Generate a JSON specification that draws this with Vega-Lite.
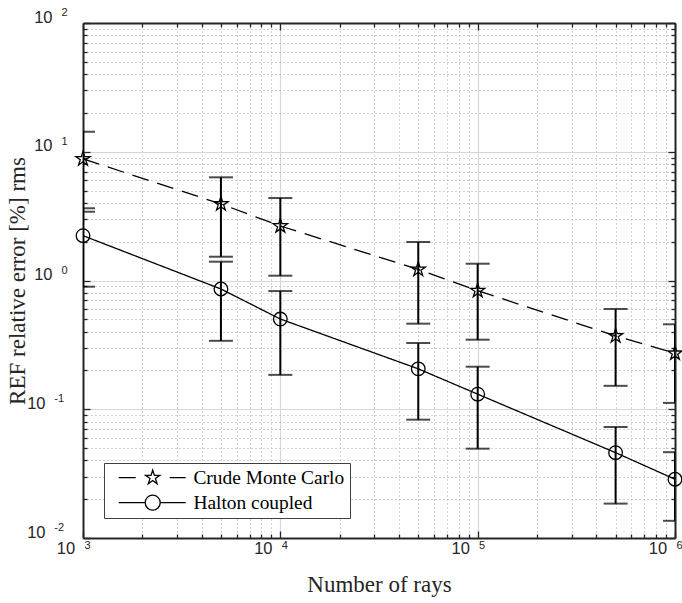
{
  "$schema": "https://vega.github.io/schema/vega-lite/v6.json",
  "width": 592,
  "height": 515,
  "autosize": {"type": "none"},
  "padding": {"left": 83, "top": 23, "right": 7, "bottom": 65},
  "background": "white",
  "data": {
    "values": [
      {"series": "Crude Monte Carlo", "rays": 1000, "err": 8.8, "lo": 3.42, "hi": 14.3},
      {"series": "Crude Monte Carlo", "rays": 5000, "err": 3.93, "lo": 1.53, "hi": 6.33},
      {"series": "Crude Monte Carlo", "rays": 10000, "err": 2.65, "lo": 1.09, "hi": 4.37},
      {"series": "Crude Monte Carlo", "rays": 50000, "err": 1.22, "lo": 0.462, "hi": 1.99},
      {"series": "Crude Monte Carlo", "rays": 100000, "err": 0.834, "lo": 0.347, "hi": 1.35},
      {"series": "Crude Monte Carlo", "rays": 500000, "err": 0.371, "lo": 0.152, "hi": 0.601},
      {"series": "Crude Monte Carlo", "rays": 1000000, "err": 0.272, "lo": 0.112, "hi": 0.457},
      {"series": "Halton coupled", "rays": 1000, "err": 2.23, "lo": 0.895, "hi": 3.64},
      {"series": "Halton coupled", "rays": 5000, "err": 0.859, "lo": 0.34, "hi": 1.4},
      {"series": "Halton coupled", "rays": 10000, "err": 0.502, "lo": 0.185, "hi": 0.828},
      {"series": "Halton coupled", "rays": 50000, "err": 0.206, "lo": 0.083, "hi": 0.327},
      {"series": "Halton coupled", "rays": 100000, "err": 0.131, "lo": 0.0494, "hi": 0.214},
      {"series": "Halton coupled", "rays": 500000, "err": 0.046, "lo": 0.0185, "hi": 0.0728},
      {"series": "Halton coupled", "rays": 1000000, "err": 0.0286, "lo": 0.0136, "hi": 0.0464}
    ]
  },
  "config": {
    "view": {"stroke": null},
    "axis": {"domainColor": "#262626", "tickColor": "#262626", "labelColor": "#262626", "titleColor": "#262626"}
  },
  "layer": [
    {
      "mark": {"type": "rule", "clip": true, "color": "black", "strokeWidth": 2},
      "encoding": {
        "x": {"field": "rays", "type": "quantitative", "scale": {"type": "log", "domain": [1000, 1000000]},
          "axis": {"orient": "bottom", "values": [1000, 10000, 100000, 1000000], "ticks": true, "tickSize": -7, "tickWidth": 1.3,
            "domain": true, "domainWidth": 2, "grid": true, "gridColor": "#d6d6d6", "gridWidth": 1.2, "labels": false,
            "title": "Number of rays", "titleFont": "Liberation Serif", "titleFontSize": 23, "titleFontWeight": "normal",
            "titleX": 296, "titleY": 53, "titleBaseline": "alphabetic", "titleAlign": "center"}},
        "y": {"field": "lo", "type": "quantitative", "scale": {"type": "log", "domain": [0.01, 100]},
          "axis": {"orient": "left", "values": [0.01, 0.1, 1, 10, 100], "ticks": true, "tickSize": -7, "tickWidth": 1.3,
            "domain": true, "domainWidth": 2, "grid": true, "gridColor": "#d6d6d6", "gridWidth": 1.2, "labels": false,
            "title": "REF relative error [%] rms", "titleFont": "Liberation Serif", "titleFontSize": 23, "titleFontWeight": "normal",
            "titleX": -66, "titleY": 257.5, "titleAngle": -90, "titleBaseline": "middle", "titleAlign": "center"}},
        "y2": {"field": "hi"}
      }
    },
    {
      "mark": {"type": "tick", "orient": "horizontal", "clip": true, "color": "black", "size": 24, "thickness": 2},
      "encoding": {
        "x": {"field": "rays", "type": "quantitative",
          "axis": {"orient": "bottom", "values": [1000, 10000, 100000, 1000000], "ticks": false, "domain": false, "grid": false,
            "labelExpr": "'10'", "labelFont": "Liberation Sans", "labelFontSize": 16.5, "labelPadding": 2, "labelBaseline": "top",
            "labelAlign": "center", "labelOffset": -17.5, "labelFlush": false, "labelOverlap": false, "title": null}},
        "y": {"field": "lo", "type": "quantitative",
          "axis": {"orient": "left", "values": [0.01, 0.1, 1, 10, 100], "ticks": false, "domain": false, "grid": false,
            "labelExpr": "'10'", "labelFont": "Liberation Sans", "labelFontSize": 16.5,
            "labelPadding": {"condition": {"test": "datum.value < 1", "value": 38}, "value": 31},
            "labelBaseline": "middle", "labelAlign": "right", "labelOffset": -6, "labelFlush": false, "labelOverlap": false, "title": null}}
      }
    },
    {
      "mark": {"type": "tick", "orient": "horizontal", "clip": true, "color": "black", "size": 24, "thickness": 2},
      "encoding": {
        "x": {"field": "rays", "type": "quantitative",
          "axis": {"orient": "bottom", "values": [1000, 10000, 100000, 1000000], "ticks": false, "domain": false, "grid": false,
            "labelExpr": "format(round(log(datum.value)/LN10), 'd')", "labelFont": "Liberation Sans", "labelFontSize": 11, "labelPadding": 1, "labelBaseline": "top",
            "labelAlign": "center", "labelOffset": 4, "labelFlush": false, "labelOverlap": false, "title": null}},
        "y": {"field": "hi", "type": "quantitative",
          "axis": {"orient": "left", "values": [0.01, 0.1, 1, 10, 100], "ticks": false, "domain": false, "grid": false,
            "labelExpr": "round(log(datum.value)/LN10) < 0 ? '-' + format(-round(log(datum.value)/LN10), 'd') : format(round(log(datum.value)/LN10), 'd')",
            "labelFont": "Liberation Sans", "labelFontSize": 11,
            "labelPadding": {"condition": {"test": "datum.value < 1", "value": 19.5}, "value": 16},
            "labelBaseline": "middle", "labelAlign": "right", "labelOffset": -10.5, "labelFlush": false, "labelOverlap": false, "title": null}}
      }
    },
    {
      "mark": {"type": "line", "color": "black", "strokeWidth": 1.3},
      "encoding": {
        "x": {"field": "rays", "type": "quantitative",
          "axis": {"orient": "bottom", "values": [2000, 3000, 4000, 5000, 6000, 7000, 8000, 9000, 20000, 30000, 40000, 50000, 60000, 70000, 80000, 90000, 200000, 300000, 400000, 500000, 600000, 700000, 800000, 900000],
            "ticks": true, "tickSize": -4, "tickWidth": 1.3, "domain": false, "grid": true, "gridColor": "#a6a6a6", "gridDash": [1, 3], "gridWidth": 1, "labels": false, "title": null}},
        "y": {"field": "err", "type": "quantitative",
          "axis": {"orient": "left", "values": [0.02, 0.03, 0.04, 0.05, 0.06, 0.07, 0.08, 0.09, 0.2, 0.3, 0.4, 0.5, 0.6, 0.7, 0.8, 0.9, 2, 3, 4, 5, 6, 7, 8, 9, 20, 30, 40, 50, 60, 70, 80, 90],
            "ticks": true, "tickSize": -4, "tickWidth": 1.3, "domain": false, "grid": true, "gridColor": "#a6a6a6", "gridDash": [1, 3], "gridWidth": 1, "labels": false, "title": null}},
        "strokeDash": {"field": "series", "type": "nominal", "scale": {"range": [[17, 9], [1, 0]]}, "legend": null}
      }
    },
    {
      "mark": {"type": "point", "filled": false, "color": "black", "strokeWidth": 1.3, "opacity": 1},
      "encoding": {
        "x": {"field": "rays", "type": "quantitative",
          "axis": {"orient": "top", "values": [1000, 10000, 100000, 1000000], "ticks": true, "tickSize": -7, "tickWidth": 1.3, "domain": true, "domainWidth": 2, "grid": false, "labels": false, "title": null}},
        "y": {"field": "err", "type": "quantitative",
          "axis": {"orient": "right", "values": [0.01, 0.1, 1, 10, 100], "ticks": true, "tickSize": -7, "tickWidth": 1.3, "domain": true, "domainWidth": 2, "grid": false, "labels": false, "title": null}},
        "size": {"value": 185},
        "shape": {"field": "series", "type": "nominal",
          "scale": {"range": ["M0,-1.1L0.247,-0.34L1.046,-0.34L0.4,0.13L0.647,0.89L0,0.42L-0.647,0.89L-0.4,0.13L-1.046,-0.34L-0.247,-0.34Z", "circle"]},
          "legend": null}
      }
    },
    {
      "mark": {"type": "point", "filled": false, "color": "black", "strokeWidth": 1.3, "opacity": 0},
      "encoding": {
        "x": {"field": "rays", "type": "quantitative",
          "axis": {"orient": "top", "values": [2000, 3000, 4000, 5000, 6000, 7000, 8000, 9000, 20000, 30000, 40000, 50000, 60000, 70000, 80000, 90000, 200000, 300000, 400000, 500000, 600000, 700000, 800000, 900000],
            "ticks": true, "tickSize": -4, "tickWidth": 1.3, "domain": false, "grid": false, "labels": false, "title": null}},
        "y": {"field": "err", "type": "quantitative",
          "axis": {"orient": "right", "values": [0.02, 0.03, 0.04, 0.05, 0.06, 0.07, 0.08, 0.09, 0.2, 0.3, 0.4, 0.5, 0.6, 0.7, 0.8, 0.9, 2, 3, 4, 5, 6, 7, 8, 9, 20, 30, 40, 50, 60, 70, 80, 90],
            "ticks": true, "tickSize": -4, "tickWidth": 1.3, "domain": false, "grid": false, "labels": false, "title": null}},
        "size": {"value": 4},
        "shape": {"field": "series", "type": "nominal",
          "scale": {"range": [
            "M-34,0H-17M17,0H33M0,-7.5L1.69,-2.32L7.13,-2.32L2.73,0.89L4.41,6.07L0,2.87L-4.41,6.07L-2.73,0.89L-7.13,-2.32L-1.69,-2.32Z",
            "M-34,0H-7.5M7.5,0H33M7.5,0A7.5,7.5,0,1,1,-7.5,0A7.5,7.5,0,1,1,7.5,0Z"]},
          "legend": {"title": null, "orient": "none", "legendX": 21, "legendY": 440, "padding": 5, "rowPadding": 4,
            "strokeColor": "#404040", "fillColor": "white",
            "labelFont": "Liberation Serif", "labelFontSize": 19.4, "labelColor": "black", "labelOffset": 31,
            "symbolSize": 4, "symbolOffset": 34, "symbolOpacity": 1, "symbolStrokeColor": "black", "symbolStrokeWidth": 1.3, "symbolFillColor": "transparent"}}
      }
    }
  ],
  "resolve": {"axis": {"x": "independent", "y": "independent"}, "scale": {"shape": "independent"}}
}
